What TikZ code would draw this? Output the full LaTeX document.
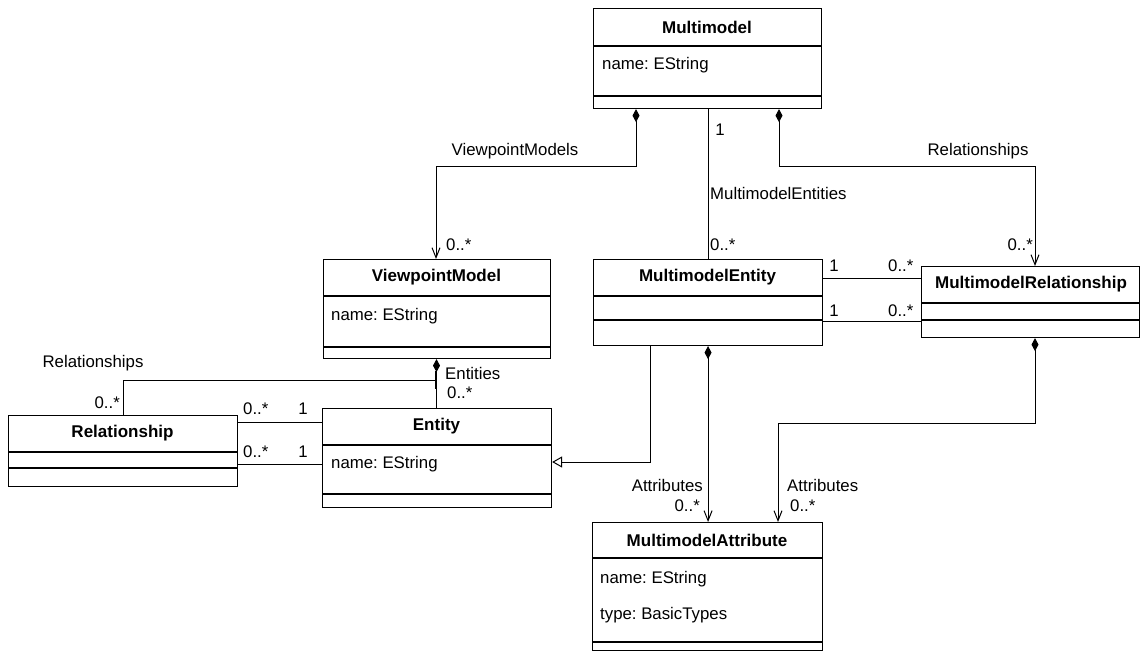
\documentclass[tikz,border=0pt]{standalone}
\usepackage{fontspec}
\setmainfont{Liberation Sans}
\frenchspacing
\usetikzlibrary{arrows.meta,calc}
\begin{document}
\begin{tikzpicture}[x=1pt,y=-1pt,
  every node/.style={font=\fontsize{16.8}{19}\selectfont},
  cls/.style={draw, line width=1.1pt, inner sep=0pt, anchor=north west},
  ttl/.style={font=\fontsize{17}{19}\selectfont\bfseries, inner sep=0pt},
  attr/.style={anchor=west, inner sep=0pt},
  lbl/.style={inner sep=0pt},
  sepline/.style={line width=1.1pt},
  conn/.style={line width=1pt},
  comp/.style={conn, {Diamond[length=13pt,width=7pt]}-},
  compto/.style={conn, {Diamond[length=13pt,width=7pt]}-{Straight Barb[length=10pt,width=8pt,line width=1pt]}},
  inherit/.style={conn, -{Triangle[open,length=10pt,width=11pt,fill=white]}}
]
\useasboundingbox (0,0) rectangle (1141,653);
\fill[white] (0,0) rectangle (1141,653);

% ---------- classes ----------
\node[cls, minimum width=228pt, minimum height=100pt] (mm) at (593,8) {};
\draw[sepline] (593,46) -- (821,46);
\draw[sepline] (593,96) -- (821,96);
\node[ttl] (mmT) at (707,27) {Multimodel};
\node[attr] (mmA) at (602,65) {name: EString};

\node[cls, minimum width=227pt, minimum height=99pt] (vp) at (323,259) {};
\draw[sepline] (323,296) -- (550,296);
\draw[sepline] (323,347) -- (550,347);
\node[ttl] (vpT) at (436.5,277.5) {ViewpointModel};
\node[attr] (vpA) at (331,316) {name: EString};

\node[cls, minimum width=229pt, minimum height=86pt] (me) at (593,259) {};
\draw[sepline] (593,296) -- (822,296);
\draw[sepline] (593,320) -- (822,320);
\node[ttl] (meT) at (707.5,277.5) {MultimodelEntity};

\node[cls, minimum width=218pt, minimum height=71pt] (mr) at (921,266) {};
\draw[sepline] (921,303) -- (1139,303);
\draw[sepline] (921,320) -- (1139,320);
\node[ttl] (mrT) at (1031,284.5) {MultimodelRelationship};

\node[cls, minimum width=229pt, minimum height=71pt] (rel) at (8,415) {};
\draw[sepline] (8,452) -- (237,452);
\draw[sepline] (8,468) -- (237,468);
\node[ttl] (relT) at (122.5,433.5) {Relationship};

\node[cls, minimum width=229pt, minimum height=99pt] (ent) at (322,408) {};
\draw[sepline] (322,445) -- (551,445);
\draw[sepline] (322,494) -- (551,494);
\node[ttl] (entT) at (436.5,426.5) {Entity};
\node[attr] (entA) at (331,464) {name: EString};

\node[cls, minimum width=230pt, minimum height=128pt] (ma) at (592,522) {};
\draw[sepline] (592,558) -- (822,558);
\draw[sepline] (592,642) -- (822,642);
\node[ttl] (maT) at (707,540) {MultimodelAttribute};
\node[attr] (maA) at (600,579) {name: EString};
\node[attr] (maB) at (600,615) {type: BasicTypes};

% ---------- connectors ----------
% ViewpointModels
\draw[compto] ([xshift=43pt]mm.south west) -- ++(0,57) -| ([xshift=113pt]vp.north west);
% MultimodelEntities
\draw[conn] (mm.south -| me.north) -- (me.north);
% Relationships (top)
\draw[compto] ([xshift=186pt]mm.south west) -- ++(0,57) -| ([xshift=114pt]mr.north west);
% ME - MR associations
\draw[conn] ([yshift=-19pt]me.north east) -- ([yshift=-19pt]me.north east -| mr.west);
\draw[conn] ([yshift=-62pt]me.north east) -- ([yshift=-62pt]me.north east -| mr.west);
% Attributes (left)
\draw[compto] (me.south) -- (me.south |- ma.north);
% Inheritance
\draw[inherit] ([xshift=57pt]me.south west) |- ([yshift=-54pt]ent.north east);
% Attributes (right)
\draw[compto] ([xshift=114pt]mr.south west) -- ++(0,85) -| ([xshift=186pt]ma.north west);
% Entities
\draw[comp] ([xshift=113.5pt]vp.south west) -- ([xshift=113.5pt]vp.south west |- ent.north);
% Relationships (left)
\draw[conn] ([xshift=112.5pt,yshift=-12pt]vp.south west) -- ++(0,9) -| ([xshift=115pt]rel.north west);
\draw[conn] ([xshift=112.5pt,yshift=-21pt]vp.south west) -- ++(0,9);
% Relationship - Entity associations
\draw[conn] ([yshift=-7pt]rel.north east) -- ([yshift=-7pt]rel.north east -| ent.west);
\draw[conn] ([yshift=-49pt]rel.north east) -- ([yshift=-49pt]rel.north east -| ent.west);

% ---------- labels ----------
\node[lbl] (l1) at (515,151) {ViewpointModels};
\node[lbl] (l2) at (720,130) {1};
\node[lbl, anchor=west] (l3) at (710,193) {MultimodelEntities};
\node[lbl, anchor=west] (l4) at (710,245) {0..*};
\node[lbl] (l5) at (978,151) {Relationships};
\node[lbl, anchor=east] (l6) at (1033,245) {0..*};
\node[lbl, anchor=west] (l7) at (446,245) {0..*};
\node[lbl, anchor=east] (l8) at (120,403) {0..*};
\node[lbl] (l9) at (93,363) {Relationships};
\node[lbl, anchor=west] (l10) at (445,373) {Entities};
\node[lbl, anchor=west] (l11) at (447,393) {0..*};
\node[lbl, anchor=west] (l12) at (243,409) {0..*};
\node[lbl] (l13) at (303,409) {1};
\node[lbl, anchor=west] (l14) at (243,452) {0..*};
\node[lbl] (l15) at (303,452) {1};
\node[lbl] (l16) at (834,266) {1};
\node[lbl, anchor=west] (l17) at (888,266) {0..*};
\node[lbl] (l18) at (834,311) {1};
\node[lbl, anchor=west] (l19) at (888,311) {0..*};
\node[lbl, anchor=east] (l20) at (703,485) {Attributes};
\node[lbl, anchor=east] (l21) at (700,506) {0..*};
\node[lbl, anchor=west] (l22) at (787,485) {Attributes};
\node[lbl, anchor=west] (l23) at (790,506) {0..*};
\end{tikzpicture}
\end{document}
